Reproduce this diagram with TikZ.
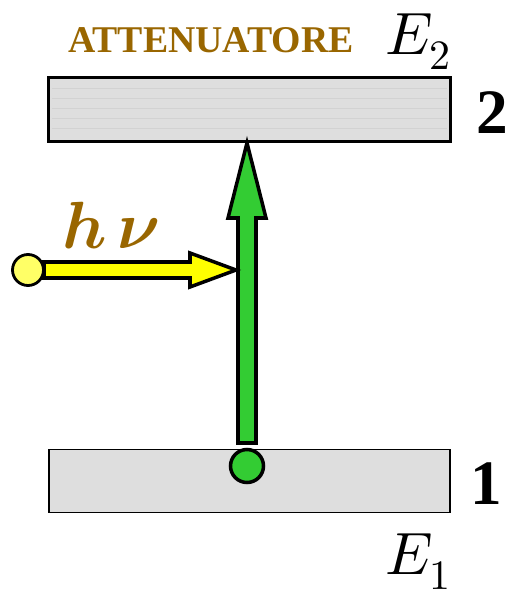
\documentclass[tikz,border=0pt]{standalone}
\usepackage{tikz}
\usepackage{fontspec}
\usepackage{unicode-math}
\usetikzlibrary{positioning, calc}

\newfontfamily\labelfont{Liberation Serif}

\definecolor{brownlabel}{HTML}{996600}
\definecolor{levelgray}{HTML}{DEDEDE}
\definecolor{pumpgreen}{HTML}{33CC33}
\definecolor{photonyellow}{HTML}{FFFF00}
\definecolor{dotyellow}{HTML}{FFFF66}

\begin{document}
\begin{tikzpicture}[
    x=0.02cm, y=-0.02cm,
    level/.style={draw, line width=1.4pt, fill=levelgray, minimum width=8.02cm, minimum height=1.26cm, inner sep=0pt},
    energy/.style={font=\fontsize{34}{36}\selectfont, inner sep=0pt},
    levelnum/.style={font=\labelfont\fontsize{36}{40}\selectfont\bfseries, inner sep=0pt},
    shape outline/.style={draw, line width=2pt, line join=miter}
]
\useasboundingbox (0,0) rectangle (508,598);

\node[level] (upper) at (249.5,109.5) {};
\node[level, line width=1.1pt] (lower) at (249.5,481) {};

% faint lines in the upper level
\foreach \yy in {88,98,...,132}
  \draw[gray!35, line width=0.4pt] (52,\yy) -- (447,\yy);
\draw[line width=1.4pt] (upper.south west) rectangle (upper.north east);

\node[levelnum] (n2) at (492,113) {2};
\node[levelnum] (n1) at (486,484) {1};
\node[energy] (e2) at (418,42) {$E_2$};
\node[energy] (e1) at (418,562) {$E_1$};
\node[font=\labelfont\fontsize{21.5}{24}\selectfont\bfseries, text=brownlabel] (att) at (211,40) {ATTENUATORE};
\node[font=\fontsize{38}{42}\selectfont, text=brownlabel] (hv) at (111,226) {$\symbfit{h}\,\symbfit{\nu}$};

% pump arrow
\draw[shape outline, fill=pumpgreen]
  (238,443) -- (238,218) -- (228,218) -- (247,143) -- (266,218) -- (256,218) -- (256,443) -- cycle;
\node[circle, draw, line width=2pt, fill=pumpgreen, minimum size=0.66cm, inner sep=0pt] (atom) at (247,466) {};

% photon arrow
\draw[shape outline, fill=photonyellow]
  (44,262) -- (190,262) -- (190,253) -- (236,270) -- (190,287) -- (190,278) -- (44,278) -- cycle;
\node[circle, draw, line width=1.6pt, fill=dotyellow, minimum size=0.62cm, inner sep=0pt] (photon) at (28,270) {};
\end{tikzpicture}
\end{document}
